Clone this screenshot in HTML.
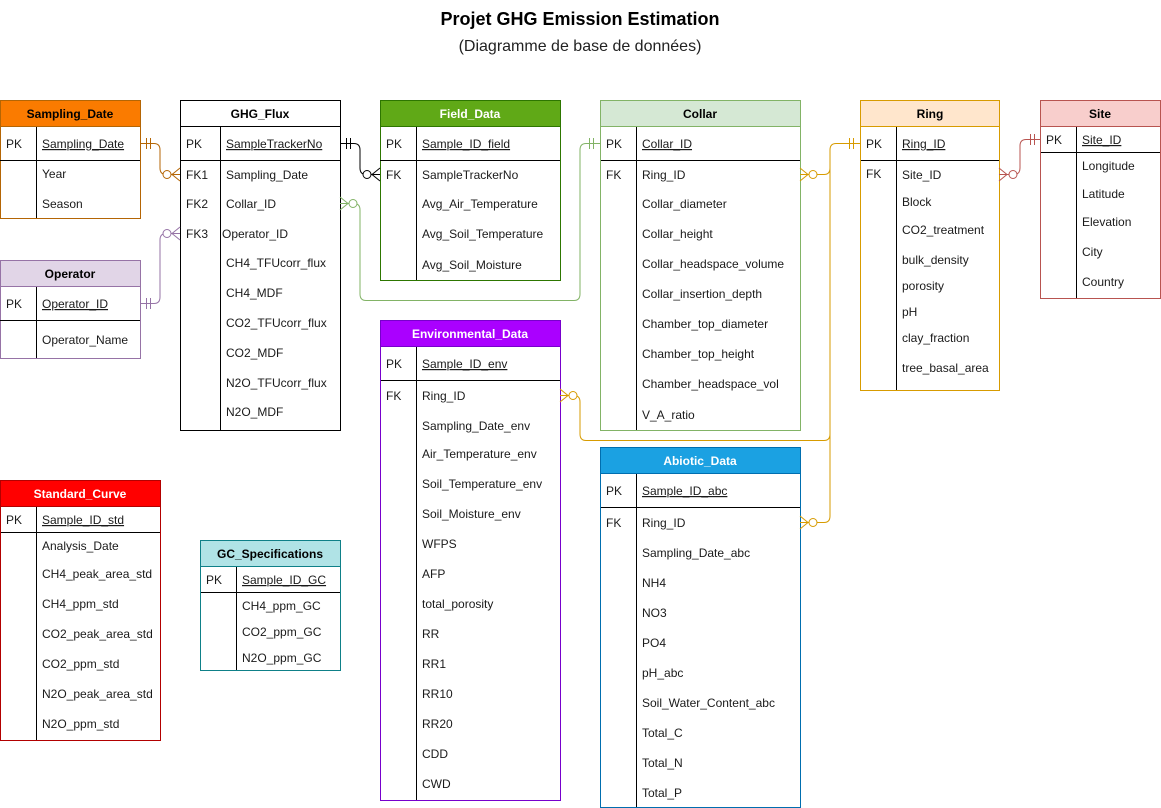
<!DOCTYPE html>
<html><head><meta charset="utf-8"><style>
html,body{margin:0;padding:0;background:#fff;}
svg{display:block;font-family:"Liberation Sans",Arial,sans-serif;}
.t{font-size:12px;fill:#1a1a1a;}
.h{font-size:12px;font-weight:bold;text-anchor:middle;}
.u{text-decoration:underline;}
.in{stroke:#000;stroke-width:1;fill:none;}
</style></head><body>
<svg width="1161" height="808" viewBox="0 0 1161 808" xmlns="http://www.w3.org/2000/svg">
<text x="580" y="25" text-anchor="middle" font-size="18" font-weight="bold" fill="#000">Projet GHG Emission Estimation</text>
<text x="580" y="51" text-anchor="middle" font-size="16" fill="#222">(Diagramme de base de données)</text>

<!-- Sampling_Date -->
<g>
<rect x="0.5" y="100.5" width="140" height="118" fill="#fff" stroke="#b46504"/>
<rect x="0.5" y="100.5" width="140" height="26" fill="#fa7b00" stroke="#b46504"/>
<line class="in" x1="0" y1="160.5" x2="140" y2="160.5"/>
<line class="in" x1="36.5" y1="127" x2="36.5" y2="218"/>
<text class="h" x="70" y="118" fill="#000">Sampling_Date</text>
<text class="t" x="6" y="148">PK</text><text class="t u" x="42" y="148">Sampling_Date</text>
<text class="t" x="42" y="178">Year</text><text class="t" x="42" y="208">Season</text>
</g>

<!-- Operator -->
<g>
<rect x="0.5" y="260.5" width="140" height="98" fill="#fff" stroke="#9673a6"/>
<rect x="0.5" y="260.5" width="140" height="26" fill="#e1d5e7" stroke="#9673a6"/>
<line class="in" x1="0" y1="320.5" x2="140" y2="320.5"/>
<line class="in" x1="36.5" y1="287" x2="36.5" y2="358"/>
<text class="h" x="70" y="278" fill="#000">Operator</text>
<text class="t" x="6" y="308">PK</text><text class="t u" x="42" y="308">Operator_ID</text>
<text class="t" x="42" y="344">Operator_Name</text>
</g>

<!-- GHG_Flux -->
<g>
<rect x="180.5" y="100.5" width="160" height="330" fill="#fff" stroke="#000"/>
<line class="in" x1="180" y1="126.5" x2="340" y2="126.5"/>
<line class="in" x1="180" y1="160.5" x2="340" y2="160.5"/>
<line class="in" x1="220.5" y1="127" x2="220.5" y2="430"/>
<text class="h" x="260" y="118" fill="#000">GHG_Flux</text>
<text class="t" x="186" y="148">PK</text><text class="t u" x="226" y="148">SampleTrackerNo</text>
<text class="t" x="186" y="179">FK1</text><text class="t" x="226" y="179">Sampling_Date</text>
<text class="t" x="186" y="208">FK2</text><text class="t" x="226" y="208">Collar_ID</text>
<text class="t" x="186" y="238">FK3</text><text class="t" x="222" y="238">Operator_ID</text>
<text class="t" x="226" y="267">CH4_TFUcorr_flux</text>
<text class="t" x="226" y="297">CH4_MDF</text>
<text class="t" x="226" y="327">CO2_TFUcorr_flux</text>
<text class="t" x="226" y="357">CO2_MDF</text>
<text class="t" x="226" y="387">N2O_TFUcorr_flux</text>
<text class="t" x="226" y="416">N2O_MDF</text>
</g>

<!-- Field_Data -->
<g>
<rect x="380.5" y="100.5" width="180" height="180" fill="#fff" stroke="#2d7600"/>
<rect x="380.5" y="100.5" width="180" height="26" fill="#60a917" stroke="#2d7600"/>
<line class="in" x1="380" y1="160.5" x2="560" y2="160.5"/>
<line class="in" x1="416.5" y1="127" x2="416.5" y2="280"/>
<text class="h" x="470" y="118" fill="#fff">Field_Data</text>
<text class="t" x="386" y="148">PK</text><text class="t u" x="422" y="148">Sample_ID_field</text>
<text class="t" x="386" y="179">FK</text><text class="t" x="422" y="179">SampleTrackerNo</text>
<text class="t" x="422" y="208">Avg_Air_Temperature</text>
<text class="t" x="422" y="238">Avg_Soil_Temperature</text>
<text class="t" x="422" y="269">Avg_Soil_Moisture</text>
</g>

<!-- Collar -->
<g>
<rect x="600.5" y="100.5" width="200" height="330" fill="#fff" stroke="#82b366"/>
<rect x="600.5" y="100.5" width="200" height="26" fill="#d5e8d4" stroke="#82b366"/>
<line class="in" x1="601" y1="160.5" x2="800" y2="160.5"/>
<line class="in" x1="636.5" y1="127" x2="636.5" y2="430"/>
<text class="h" x="700" y="118" fill="#000">Collar</text>
<text class="t" x="606" y="148">PK</text><text class="t u" x="642" y="148">Collar_ID</text>
<text class="t" x="606" y="179">FK</text><text class="t" x="642" y="179">Ring_ID</text>
<text class="t" x="642" y="208">Collar_diameter</text>
<text class="t" x="642" y="238">Collar_height</text>
<text class="t" x="642" y="268">Collar_headspace_volume</text>
<text class="t" x="642" y="298">Collar_insertion_depth</text>
<text class="t" x="642" y="328">Chamber_top_diameter</text>
<text class="t" x="642" y="358">Chamber_top_height</text>
<text class="t" x="642" y="388">Chamber_headspace_vol</text>
<text class="t" x="642" y="419">V_A_ratio</text>
</g>

<!-- Ring -->
<g>
<rect x="860.5" y="100.5" width="139" height="290" fill="#fff" stroke="#d79b00"/>
<rect x="860.5" y="100.5" width="139" height="26" fill="#ffe6cc" stroke="#d79b00"/>
<line class="in" x1="861" y1="160.5" x2="999" y2="160.5"/>
<line class="in" x1="896.5" y1="127" x2="896.5" y2="390"/>
<text class="h" x="930" y="118" fill="#000">Ring</text>
<text class="t" x="866" y="148">PK</text><text class="t u" x="902" y="148">Ring_ID</text>
<text class="t" x="866" y="178">FK</text><text class="t" x="902" y="179">Site_ID</text>
<text class="t" x="902" y="206">Block</text>
<text class="t" x="902" y="234">CO2_treatment</text>
<text class="t" x="902" y="264">bulk_density</text>
<text class="t" x="902" y="290">porosity</text>
<text class="t" x="902" y="316">pH</text>
<text class="t" x="902" y="342">clay_fraction</text>
<text class="t" x="902" y="372">tree_basal_area</text>
</g>

<!-- Site -->
<g>
<rect x="1040.5" y="100.5" width="120" height="198" fill="#fff" stroke="#b85450"/>
<rect x="1040.5" y="100.5" width="120" height="26" fill="#f8cecc" stroke="#b85450"/>
<line class="in" x1="1041" y1="152.5" x2="1160" y2="152.5"/>
<line class="in" x1="1076.5" y1="127" x2="1076.5" y2="298"/>
<text class="h" x="1100" y="118" fill="#000">Site</text>
<text class="t" x="1046" y="144">PK</text><text class="t u" x="1082" y="144">Site_ID</text>
<text class="t" x="1082" y="170">Longitude</text>
<text class="t" x="1082" y="198">Latitude</text>
<text class="t" x="1082" y="226">Elevation</text>
<text class="t" x="1082" y="256">City</text>
<text class="t" x="1082" y="286">Country</text>
</g>

<!-- Environmental_Data -->
<g>
<rect x="380.5" y="320.5" width="180" height="480" fill="#fff" stroke="#7700cc"/>
<rect x="380.5" y="320.5" width="180" height="26" fill="#aa00ff" stroke="#7700cc"/>
<line class="in" x1="381" y1="380.5" x2="560" y2="380.5"/>
<line class="in" x1="416.5" y1="347" x2="416.5" y2="800"/>
<text class="h" x="470" y="338" fill="#fff">Environmental_Data</text>
<text class="t" x="386" y="368">PK</text><text class="t u" x="422" y="368">Sample_ID_env</text>
<text class="t" x="386" y="400">FK</text><text class="t" x="422" y="400">Ring_ID</text>
<text class="t" x="422" y="430">Sampling_Date_env</text>
<text class="t" x="422" y="458">Air_Temperature_env</text>
<text class="t" x="422" y="488">Soil_Temperature_env</text>
<text class="t" x="422" y="518">Soil_Moisture_env</text>
<text class="t" x="422" y="548">WFPS</text>
<text class="t" x="422" y="578">AFP</text>
<text class="t" x="422" y="608">total_porosity</text>
<text class="t" x="422" y="638">RR</text>
<text class="t" x="422" y="668">RR1</text>
<text class="t" x="422" y="698">RR10</text>
<text class="t" x="422" y="728">RR20</text>
<text class="t" x="422" y="758">CDD</text>
<text class="t" x="422" y="788">CWD</text>
</g>

<!-- Abiotic_Data -->
<g>
<rect x="600.5" y="447.5" width="200" height="360" fill="#fff" stroke="#006eaf"/>
<rect x="600.5" y="447.5" width="200" height="26" fill="#1ba1e2" stroke="#006eaf"/>
<line class="in" x1="601" y1="507.5" x2="800" y2="507.5"/>
<line class="in" x1="636.5" y1="474" x2="636.5" y2="807"/>
<text class="h" x="700" y="465" fill="#fff">Abiotic_Data</text>
<text class="t" x="606" y="495">PK</text><text class="t u" x="642" y="495">Sample_ID_abc</text>
<text class="t" x="606" y="527">FK</text><text class="t" x="642" y="527">Ring_ID</text>
<text class="t" x="642" y="557">Sampling_Date_abc</text>
<text class="t" x="642" y="587">NH4</text>
<text class="t" x="642" y="617">NO3</text>
<text class="t" x="642" y="647">PO4</text>
<text class="t" x="642" y="677">pH_abc</text>
<text class="t" x="642" y="707">Soil_Water_Content_abc</text>
<text class="t" x="642" y="737">Total_C</text>
<text class="t" x="642" y="767">Total_N</text>
<text class="t" x="642" y="797">Total_P</text>
</g>

<!-- Standard_Curve -->
<g>
<rect x="0.5" y="480.5" width="160" height="260" fill="#fff" stroke="#b20000"/>
<rect x="0.5" y="480.5" width="160" height="26" fill="#ff0000" stroke="#b20000"/>
<line class="in" x1="1" y1="532.5" x2="160" y2="532.5"/>
<line class="in" x1="36.5" y1="507" x2="36.5" y2="740"/>
<text class="h" x="80" y="498" fill="#fff">Standard_Curve</text>
<text class="t" x="6" y="524">PK</text><text class="t u" x="42" y="524">Sample_ID_std</text>
<text class="t" x="42" y="550">Analysis_Date</text>
<text class="t" x="42" y="578">CH4_peak_area_std</text>
<text class="t" x="42" y="608">CH4_ppm_std</text>
<text class="t" x="42" y="638">CO2_peak_area_std</text>
<text class="t" x="42" y="668">CO2_ppm_std</text>
<text class="t" x="42" y="698">N2O_peak_area_std</text>
<text class="t" x="42" y="728">N2O_ppm_std</text>
</g>

<!-- GC_Specifications -->
<g>
<rect x="200.5" y="540.5" width="140" height="130" fill="#fff" stroke="#0e8088"/>
<rect x="200.5" y="540.5" width="140" height="26" fill="#b0e3e6" stroke="#0e8088"/>
<line class="in" x1="201" y1="592.5" x2="340" y2="592.5"/>
<line class="in" x1="236.5" y1="567" x2="236.5" y2="670"/>
<text class="h" x="270" y="558" fill="#000">GC_Specifications</text>
<text class="t" x="206" y="584">PK</text><text class="t u" x="242" y="584">Sample_ID_GC</text>
<text class="t" x="242" y="610">CH4_ppm_GC</text>
<text class="t" x="242" y="636">CO2_ppm_GC</text>
<text class="t" x="242" y="662">N2O_ppm_GC</text>
</g>

<!-- Connectors -->
<g fill="none" stroke-width="1">
<g stroke="#b46504">
<path d="M140,143.5 H154 Q160,143.5 160,150 V168 Q160,174.5 166,174.5 H180"/>
<path d="M146.5,138 V149 M150.5,138 V149"/>
<path d="M180,168 L172,174.5 L180,181"/><circle cx="167" cy="174.5" r="4" fill="#fff"/>
</g>
<g stroke="#000">
<path d="M340,143.5 H354 Q360,143.5 360,150 V168 Q360,174.5 366,174.5 H380"/>
<path d="M346.5,138 V149 M350.5,138 V149"/>
<path d="M380,168 L372,174.5 L380,181"/><circle cx="367" cy="174.5" r="4" fill="#fff"/>
</g>
<g stroke="#82b366">
<path d="M340,203.5 H354 Q360,203.5 360,210 V294 Q360,300.5 366,300.5 H574 Q580,300.5 580,294 V150 Q580,143.5 586,143.5 H600"/>
<path d="M340,197 L348,203.5 L340,210"/><circle cx="353" cy="203.5" r="4" fill="#fff"/>
<path d="M589.5,138 V149 M593.5,138 V149"/>
</g>
<g stroke="#9673a6">
<path d="M140,303.5 H154 Q160,303.5 160,297 V240 Q160,233.5 166,233.5 H180"/>
<path d="M146.5,298 V309 M150.5,298 V309"/>
<path d="M180,227 L172,233.5 L180,240"/><circle cx="167" cy="233.5" r="4" fill="#fff"/>
</g>
<g stroke="#d79b00">
<path d="M800,174.5 H824 Q830,174.5 830,168 V150 Q830,143.5 836,143.5 H860"/>
<path d="M849.5,138 V149 M853.5,138 V149"/>
<path d="M800,168 L808,174.5 L800,181"/><circle cx="813" cy="174.5" r="4" fill="#fff"/>
<path d="M560,395.5 H574 Q580,395.5 580,402 V434 Q580,440.5 586,440.5 H824 Q830,440.5 830,434 V160"/>
<path d="M560,389 L568,395.5 L560,402"/><circle cx="573" cy="395.5" r="4" fill="#fff"/>
<path d="M800,522.5 H824 Q830,522.5 830,516 V430"/>
<path d="M800,516 L808,522.5 L800,529"/><circle cx="813" cy="522.5" r="4" fill="#fff"/>
</g>
<g stroke="#b85450">
<path d="M999,174.5 H1014 Q1020,174.5 1020,168 V146 Q1020,139.5 1026,139.5 H1040"/>
<path d="M1030.5,134 V145 M1034.5,134 V145"/>
<path d="M999,168 L1007,174.5 L999,181"/><circle cx="1013" cy="174.5" r="4" fill="#fff"/>
</g>
</g>
</svg>
</body></html>
